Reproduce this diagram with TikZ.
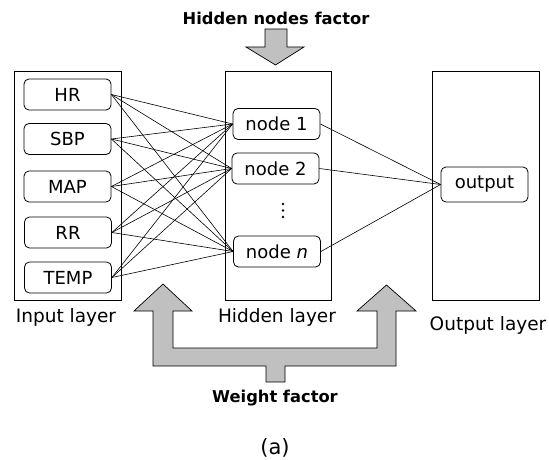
\documentclass[tikz,border=0pt]{standalone}
\usepackage{fontspec}
\setmainfont{DejaVu Sans}
\definecolor{arrowgray}{RGB}{192,192,192}
\begin{document}
\begin{tikzpicture}[x=1pt,y=-1pt,
  layerbox/.style={draw=black,line width=0.8pt,fill=white},
  unit/.style={draw=black,line width=0.8pt,rounded corners=5pt,inner sep=0pt,
    minimum height=31pt,font=\fontsize{18}{20}\selectfont},
  inunit/.style={unit,minimum width=87pt},
  hidunit/.style={unit,minimum width=87pt},
  link/.style={draw=black,line width=0.6pt},
  lbl/.style={font=\fontsize{18.5}{21}\selectfont,inner sep=0pt},
  title/.style={font=\fontsize{16.3}{19}\selectfont\bfseries,inner sep=0pt},
  bigarrow/.style={draw=black,line width=0.7pt,fill=arrowgray}]
\useasboundingbox[fill=white] (0,0) rectangle (549,460);

% layer boxes
\draw[layerbox] (14,71) rectangle (121,300);
\draw[layerbox] (225,71) rectangle (331,300);
\draw[layerbox] (432,71) rectangle (539,300);

% input nodes
\node[inunit] (hr)   at (67.5,94.5)  {HR};
\node[inunit] (sbp)  at (67.5,139)   {SBP};
\node[inunit] (map)  at (67.5,186.5) {MAP};
\node[inunit] (rr)   at (68,232.5)   {RR};
\node[inunit] (temp) at (68,277.5)   {TEMP};

% hidden nodes
\node[hidunit] (h1) at (276.5,124)   {node 1};
\node[hidunit] (h2) at (275.5,168.5) {node 2};
\node[hidunit] (hn) at (277,251.5)   {node \textit{n}};
% vertical ellipsis
\fill (283,204) circle (1.4);
\fill (283,210.5) circle (1.4);
\fill (283,217) circle (1.4);

% output node
\node[unit,minimum width=87pt,minimum height=35pt] (out) at (484.5,184.5) {output};

% connections
\foreach \i in {hr,sbp,map,rr,temp}{
  \foreach \h in {h1,h2,hn}{
    \draw[link] (\i.east) -- (\h.west);
  }
}
\foreach \h in {h1,h2,hn}{
  \draw[link] (\h.east) -- (out.west);
}

% labels
\node[title] (hnf) at (276,18) {Hidden nodes factor};
\node[lbl] (inl) at (66,317) {Input layer};
\node[lbl] (hil) at (277,317) {Hidden layer};
\node[lbl] (oul) at (488,325) {Output layer};
\node[title] (wf) at (275,398) {Weight factor};
\node[font=\fontsize{21}{24}\selectfont,inner sep=0pt] (cap) at (275,448) {(a)};

% top arrow
\draw[bigarrow] (265,29) -- (287,29) -- (287,47) -- (304,47) -- (275.5,65)
  -- (246,47) -- (265,47) -- cycle;

% weight factor arrow
\draw[bigarrow] (163,284) -- (192,311) -- (173,311) -- (173,348) -- (377,348)
  -- (377,311) -- (357,311) -- (386.5,285) -- (416,311) -- (396,311)
  -- (396,366) -- (285,366) -- (285,382) -- (266,382) -- (266,366)
  -- (153,366) -- (153,311) -- (134,311) -- cycle;
\end{tikzpicture}
\end{document}
